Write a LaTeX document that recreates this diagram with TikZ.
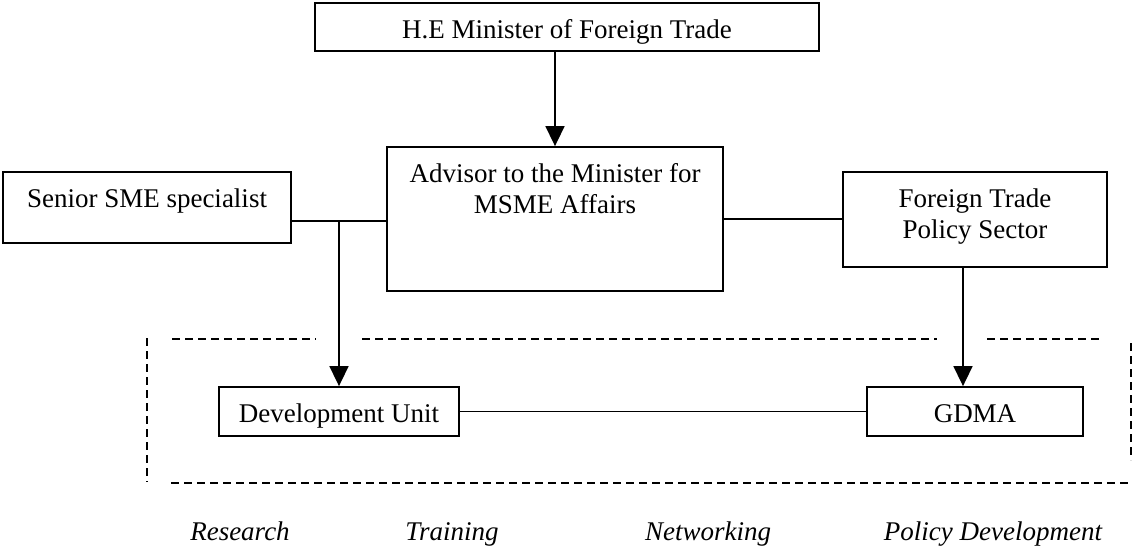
\documentclass[tikz,border=0pt]{standalone}
\usepackage{fontspec}
\setmainfont{Liberation Serif}
\usetikzlibrary{arrows.meta}

\tikzset{
  unit/.style={draw, line width=1.8pt, inner sep=0pt, anchor=base,
    text height=35pt, font=\fontsize{27}{31}\selectfont},
  link/.style={line width=1.6pt},
  arrow/.style={link, -{Triangle[length=20pt,width=19pt]}},
  frame/.style={line width=1.6pt, dash pattern=on 8pt off 5pt},
  area/.style={anchor=base, font=\fontsize{27}{31}\selectfont\itshape}
}

\begin{document}
\begin{tikzpicture}[x=1pt,y=-1pt]
\useasboundingbox (0,0) rectangle (1133,546);
\node[unit, minimum width=504pt, text depth=13pt] (minister) at (567,38) {H.E Minister of Foreign Trade};
\node[unit, minimum width=336pt, text depth=109pt] (advisor) at (555,182)
  {\parbox[t]{330pt}{\centering Advisor to the Minister for\\MSME Affairs}};
\node[unit, minimum width=288pt, text depth=36pt] (senior) at (147,207) {Senior SME specialist};
\node[unit, minimum width=264pt, text depth=60pt] (ftp) at (975,207)
  {\parbox[t]{260pt}{\centering Foreign Trade\\Policy Sector}};
\node[unit, minimum width=240pt, text depth=14pt] (devunit) at (339,422) {Development Unit};
\node[unit, minimum width=216pt, text depth=14pt] (gdma) at (975,422) {GDMA};
\coordinate (sj) at (339,221);

\draw[arrow] (advisor.north |- minister.south) -- (advisor.north);
\draw[link] (senior.east |- sj) -- (advisor.west |- sj);
\draw[arrow] (sj) -- (devunit.north);
\draw[link] (advisor.east) -- (advisor.east -| ftp.west);
\draw[arrow] ([xshift=-12pt]ftp.south) -- ([xshift=-12pt]gdma.north);
\draw[link] (devunit.east) -- (devunit.east -| gdma.west);

\foreach \a/\b in {172/316, 362/937, 987/1103}
  \draw[frame] (\a,339) -- (\b,339);
\draw[frame] (171,483) -- (1131,483);
\draw[frame] (147,338) -- (147,482);
\draw[frame] (1131,343) -- (1131,460);

\node[area] (research) at (240,540) {Research};
\node[area] (training) at (452,540) {Training};
\node[area] (networking) at (708,540) {Networking};
\node[area] (policy) at (993,540) {Policy Development};
\end{tikzpicture}
\end{document}
